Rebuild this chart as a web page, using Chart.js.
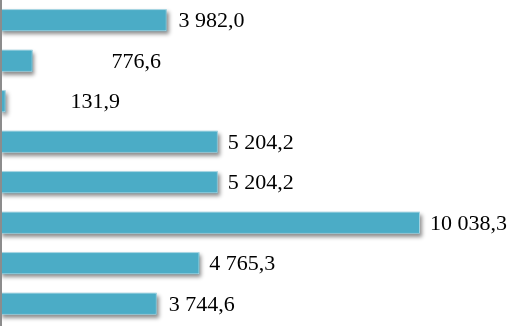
<!DOCTYPE html>
<html>
<head>
<meta charset="utf-8">
<script src="https://cdn.jsdelivr.net/npm/chart.js@4/dist/chart.umd.min.js"></script>
<style>
html,body{margin:0;padding:0;background:#fff;}
#wrap{width:509px;height:326px;position:relative;}
</style>
</head>
<body>
<div id="wrap"><canvas id="c" width="509" height="326"></canvas></div>
<script>
const categories = ["1", "2", "3", "4", "5", "6", "7", "8"];
const values = [3982.0, 776.6, 131.9, 5204.2, 5204.2, 10038.3, 4765.3, 3744.6];
const valueLabels = ["3 982,0", "776,6", "131,9", "5 204,2", "5 204,2", "10 038,3", "4 765,3", "3 744,6"];

const labelExtraShift = [2, 69, 55, 0, 0, 0, 0, 2];

const shadowPlugin = {
  id: 'barShadow',
  beforeDatasetsDraw(chart) {
    const ctx = chart.ctx;
    const meta = chart.getDatasetMeta(0);
    ctx.save();
    ctx.shadowColor = 'rgba(0,0,0,0.45)';
    ctx.shadowBlur = 4;
    ctx.shadowOffsetX = 2;
    ctx.shadowOffsetY = 3;
    ctx.fillStyle = '#4BACC6';
    meta.data.forEach(bar => {
      const p = bar.getProps(['x', 'y', 'base', 'height'], true);
      ctx.fillRect(p.base, p.y - p.height / 2, p.x - p.base, p.height);
    });
    ctx.restore();
  }
};

const labelPlugin = {
  id: 'valLabels',
  afterDatasetsDraw(chart) {
    const ctx = chart.ctx;
    const meta = chart.getDatasetMeta(0);
    ctx.save();
    ctx.font = '22px "Liberation Serif", "Times New Roman", serif';
    ctx.fillStyle = '#000';
    ctx.textAlign = 'left';
    ctx.textBaseline = 'middle';
    meta.data.forEach((bar, i) => {
      ctx.fillText(valueLabels[i], bar.x + 10 + labelExtraShift[i], bar.y + 1);
    });
    ctx.strokeStyle = '#8c8c8c';
    ctx.lineWidth = 2;
    ctx.beginPath();
    ctx.moveTo(1, 0);
    ctx.lineTo(1, chart.height);
    ctx.stroke();
    ctx.restore();
  }
};

new Chart(document.getElementById('c'), {
  type: 'bar',
  data: {
    labels: categories,
    datasets: [{
      data: values,
      backgroundColor: '#4BACC6',
      borderColor: 'rgba(255,255,255,0.55)',
      borderWidth: 1,
      barPercentage: 0.54,
      categoryPercentage: 1.0
    }]
  },
  options: {
    indexAxis: 'y',
    responsive: false,
    animation: false,
    layout: { padding: { left: 0, right: 7, top: 0, bottom: 2 } },
    plugins: { legend: { display: false }, tooltip: { enabled: false } },
    scales: {
      x: {
        display: false,
        min: 0,
        max: 12000
      },
      y: {
        ticks: { display: false },
        grid: { display: false, drawTicks: false },
        border: { display: false }
      }
    }
  },
  plugins: [shadowPlugin, labelPlugin]
});
</script>
</body>
</html>
